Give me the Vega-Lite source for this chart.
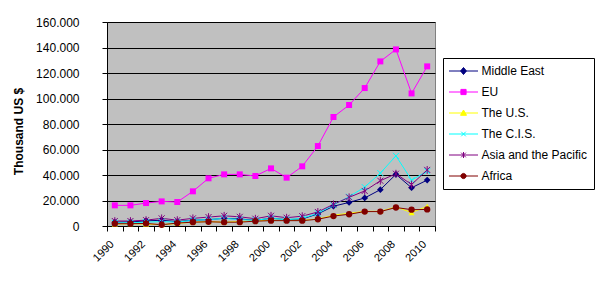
{
  "$schema": "https://vega.github.io/schema/vega-lite/v6.json",
  "width": 328,
  "height": 204,
  "autosize": "none",
  "padding": {"left": 107, "top": 22, "right": 171, "bottom": 55},
  "background": "#ffffff",
  "config": {
    "font": "Liberation Sans",
    "view": {"fill": "#C0C0C0", "stroke": "#808080", "strokeWidth": 1},
    "axis": {"labelFont": "Liberation Sans", "labelColor": "#000000", "labelFontSize": 12, "titleFont": "Liberation Sans", "titleColor": "#000000"}
  },
  "data": {
    "values": [
      {"year": 1990, "series": "Middle East", "value": 3000},
      {"year": 1991, "series": "Middle East", "value": 3200},
      {"year": 1992, "series": "Middle East", "value": 4000},
      {"year": 1993, "series": "Middle East", "value": 4500},
      {"year": 1994, "series": "Middle East", "value": 3500},
      {"year": 1995, "series": "Middle East", "value": 4500},
      {"year": 1996, "series": "Middle East", "value": 5000},
      {"year": 1997, "series": "Middle East", "value": 6000},
      {"year": 1998, "series": "Middle East", "value": 5500},
      {"year": 1999, "series": "Middle East", "value": 4500},
      {"year": 2000, "series": "Middle East", "value": 6000},
      {"year": 2001, "series": "Middle East", "value": 5000},
      {"year": 2002, "series": "Middle East", "value": 5500},
      {"year": 2003, "series": "Middle East", "value": 9500},
      {"year": 2004, "series": "Middle East", "value": 15500},
      {"year": 2005, "series": "Middle East", "value": 18500},
      {"year": 2006, "series": "Middle East", "value": 22000},
      {"year": 2007, "series": "Middle East", "value": 28500},
      {"year": 2008, "series": "Middle East", "value": 40500},
      {"year": 2009, "series": "Middle East", "value": 30000},
      {"year": 2010, "series": "Middle East", "value": 36000},

      {"year": 1990, "series": "EU", "value": 16200},
      {"year": 1991, "series": "EU", "value": 16200},
      {"year": 1992, "series": "EU", "value": 18000},
      {"year": 1993, "series": "EU", "value": 19300},
      {"year": 1994, "series": "EU", "value": 18800},
      {"year": 1995, "series": "EU", "value": 27200},
      {"year": 1996, "series": "EU", "value": 37400},
      {"year": 1997, "series": "EU", "value": 40500},
      {"year": 1998, "series": "EU", "value": 40500},
      {"year": 1999, "series": "EU", "value": 39200},
      {"year": 2000, "series": "EU", "value": 45200},
      {"year": 2001, "series": "EU", "value": 37900},
      {"year": 2002, "series": "EU", "value": 46800},
      {"year": 2003, "series": "EU", "value": 62700},
      {"year": 2004, "series": "EU", "value": 85500},
      {"year": 2005, "series": "EU", "value": 94900},
      {"year": 2006, "series": "EU", "value": 108200},
      {"year": 2007, "series": "EU", "value": 129100},
      {"year": 2008, "series": "EU", "value": 138500},
      {"year": 2009, "series": "EU", "value": 104000},
      {"year": 2010, "series": "EU", "value": 125200},

      {"year": 1990, "series": "The U.S.", "value": 1500},
      {"year": 1991, "series": "The U.S.", "value": 1800},
      {"year": 1992, "series": "The U.S.", "value": 1500},
      {"year": 1993, "series": "The U.S.", "value": 1000},
      {"year": 1994, "series": "The U.S.", "value": 2000},
      {"year": 1995, "series": "The U.S.", "value": 3000},
      {"year": 1996, "series": "The U.S.", "value": 3500},
      {"year": 1997, "series": "The U.S.", "value": 3000},
      {"year": 1998, "series": "The U.S.", "value": 3500},
      {"year": 1999, "series": "The U.S.", "value": 4000},
      {"year": 2000, "series": "The U.S.", "value": 4500},
      {"year": 2001, "series": "The U.S.", "value": 4500},
      {"year": 2002, "series": "The U.S.", "value": 4500},
      {"year": 2003, "series": "The U.S.", "value": 5500},
      {"year": 2004, "series": "The U.S.", "value": 8500},
      {"year": 2005, "series": "The U.S.", "value": 10000},
      {"year": 2006, "series": "The U.S.", "value": 11500},
      {"year": 2007, "series": "The U.S.", "value": 11500},
      {"year": 2008, "series": "The U.S.", "value": 15000},
      {"year": 2009, "series": "The U.S.", "value": 10500},
      {"year": 2010, "series": "The U.S.", "value": 15500},

      {"year": 1990, "series": "The C.I.S.", "value": 2500},
      {"year": 1991, "series": "The C.I.S.", "value": 2500},
      {"year": 1992, "series": "The C.I.S.", "value": 3000},
      {"year": 1993, "series": "The C.I.S.", "value": 3500},
      {"year": 1994, "series": "The C.I.S.", "value": 3000},
      {"year": 1995, "series": "The C.I.S.", "value": 4500},
      {"year": 1996, "series": "The C.I.S.", "value": 5000},
      {"year": 1997, "series": "The C.I.S.", "value": 6000},
      {"year": 1998, "series": "The C.I.S.", "value": 5000},
      {"year": 1999, "series": "The C.I.S.", "value": 4500},
      {"year": 2000, "series": "The C.I.S.", "value": 6000},
      {"year": 2001, "series": "The C.I.S.", "value": 5000},
      {"year": 2002, "series": "The C.I.S.", "value": 6000},
      {"year": 2003, "series": "The C.I.S.", "value": 10000},
      {"year": 2004, "series": "The C.I.S.", "value": 16500},
      {"year": 2005, "series": "The C.I.S.", "value": 23000},
      {"year": 2006, "series": "The C.I.S.", "value": 30500},
      {"year": 2007, "series": "The C.I.S.", "value": 41500},
      {"year": 2008, "series": "The C.I.S.", "value": 55000},
      {"year": 2009, "series": "The C.I.S.", "value": 36000},
      {"year": 2010, "series": "The C.I.S.", "value": 43000},

      {"year": 1990, "series": "Asia and the Pacific", "value": 3900},
      {"year": 1991, "series": "Asia and the Pacific", "value": 3900},
      {"year": 1992, "series": "Asia and the Pacific", "value": 4600},
      {"year": 1993, "series": "Asia and the Pacific", "value": 6000},
      {"year": 1994, "series": "Asia and the Pacific", "value": 4600},
      {"year": 1995, "series": "Asia and the Pacific", "value": 6000},
      {"year": 1996, "series": "Asia and the Pacific", "value": 7000},
      {"year": 1997, "series": "Asia and the Pacific", "value": 8000},
      {"year": 1998, "series": "Asia and the Pacific", "value": 7200},
      {"year": 1999, "series": "Asia and the Pacific", "value": 5700},
      {"year": 2000, "series": "Asia and the Pacific", "value": 8000},
      {"year": 2001, "series": "Asia and the Pacific", "value": 6500},
      {"year": 2002, "series": "Asia and the Pacific", "value": 7700},
      {"year": 2003, "series": "Asia and the Pacific", "value": 11000},
      {"year": 2004, "series": "Asia and the Pacific", "value": 17000},
      {"year": 2005, "series": "Asia and the Pacific", "value": 22500},
      {"year": 2006, "series": "Asia and the Pacific", "value": 27500},
      {"year": 2007, "series": "Asia and the Pacific", "value": 35500},
      {"year": 2008, "series": "Asia and the Pacific", "value": 41000},
      {"year": 2009, "series": "Asia and the Pacific", "value": 32500},
      {"year": 2010, "series": "Asia and the Pacific", "value": 44000},

      {"year": 1990, "series": "Africa", "value": 1800},
      {"year": 1991, "series": "Africa", "value": 1800},
      {"year": 1992, "series": "Africa", "value": 2000},
      {"year": 1993, "series": "Africa", "value": 1000},
      {"year": 1994, "series": "Africa", "value": 2300},
      {"year": 1995, "series": "Africa", "value": 3000},
      {"year": 1996, "series": "Africa", "value": 3300},
      {"year": 1997, "series": "Africa", "value": 3000},
      {"year": 1998, "series": "Africa", "value": 3000},
      {"year": 1999, "series": "Africa", "value": 3800},
      {"year": 2000, "series": "Africa", "value": 4200},
      {"year": 2001, "series": "Africa", "value": 4200},
      {"year": 2002, "series": "Africa", "value": 4200},
      {"year": 2003, "series": "Africa", "value": 5300},
      {"year": 2004, "series": "Africa", "value": 7800},
      {"year": 2005, "series": "Africa", "value": 9200},
      {"year": 2006, "series": "Africa", "value": 11300},
      {"year": 2007, "series": "Africa", "value": 11300},
      {"year": 2008, "series": "Africa", "value": 14500},
      {"year": 2009, "series": "Africa", "value": 12800},
      {"year": 2010, "series": "Africa", "value": 13000}
    ]
  },
  "encoding": {
    "x": {
      "field": "year",
      "type": "ordinal",
      "scale": {"type": "band", "paddingInner": 0, "paddingOuter": 0},
      "axis": {
        "title": null,
        "tickBand": "extent",
        "grid": false,
        "domainColor": "#000000",
        "tickColor": "#000000",
        "tickSize": 5,
        "labelFontSize": 11,
        "labelAngle": -45,
        "labelAlign": "right",
        "labelBaseline": "top",
        "labelPadding": 7,
        "labelOffset": -7,
        "labelExpr": "datum.value % 2 === 0 ? datum.label : ''"
      }
    },
    "y": {
      "field": "value",
      "type": "quantitative",
      "scale": {"domain": [0, 160000], "nice": false, "zero": true},
      "axis": {
        "values": [0, 20000, 40000, 60000, 80000, 100000, 120000, 140000, 160000],
        "labelExpr": "replace(format(datum.value, ','), ',', '.')",
        "grid": true,
        "gridColor": "#000000",
        "gridWidth": 1,
        "domainColor": "#000000",
        "tickColor": "#000000",
        "tickSize": 5,
        "labelPadding": 23,
        "title": "Thousand US $",
        "titleFontSize": 12,
        "titleFontWeight": "bold",
        "titleAngle": 270,
        "titleAlign": "center",
        "titleBaseline": "middle",
        "titleX": -89,
        "titleY": 109
      }
    },
    "color": {
      "field": "series",
      "type": "nominal",
      "scale": {
        "domain": ["Middle East", "EU", "The U.S.", "The C.I.S.", "Asia and the Pacific", "Africa"],
        "range": ["#000080", "#FF00FF", "#FFFF00", "#00FFFF", "#800080", "#800000"]
      },
      "legend": {
        "title": null,
        "orient": "none",
        "legendX": 336,
        "legendY": 36,
        "padding": 7,
        "strokeColor": "#000000",
        "fillColor": "#ffffff",
        "labelFont": "Liberation Sans",
        "labelFontSize": 12,
        "labelColor": "#000000",
        "labelOffset": 12,
        "symbolSize": 100,
        "symbolOffset": 7.5,
        "symbolStrokeWidth": 1,
        "rowPadding": 9,
        "encode": {
          "symbols": {
            "update": {
              "shape": {"signal": "datum.value === 'Middle East' ? 'M-2.9,0H2.9M0,-0.7L0.58,0L0,0.7L-0.58,0Z' : datum.value === 'EU' ? 'M-2.9,0H2.9M-0.52,-0.52H0.52V0.52H-0.52Z' : datum.value === 'The U.S.' ? 'M-2.9,0H2.9M0,-0.6L0.6,0.46H-0.6Z' : datum.value === 'The C.I.S.' ? 'M-2.9,0H2.9M-0.46,-0.46L0.46,0.46M-0.46,0.46L0.46,-0.46' : datum.value === 'Asia and the Pacific' ? 'M-2.9,0H2.9M-0.46,-0.46L0.46,0.46M-0.46,0.46L0.46,-0.46M0,-0.6V0.6' : 'M-2.9,0H2.9M-0.52,0A0.52,0.52,0,1,0,0.52,0A0.52,0.52,0,1,0,-0.52,0Z'"},
              "fill": {"scale": "color", "field": "value"},
              "stroke": {"scale": "color", "field": "value"},
              "strokeWidth": {"value": 1},
              "opacity": {"value": 1}
            }
          }
        }
      }
    }
  },
  "layer": [
    {"mark": {"type": "line", "strokeWidth": 1}},
    {
      "transform": [{"filter": "datum.series === 'Middle East'"}],
      "mark": {"type": "point", "shape": "diamond", "filled": true, "size": 45, "opacity": 1}
    },
    {
      "transform": [{"filter": "datum.series === 'EU'"}],
      "mark": {"type": "point", "shape": "square", "filled": true, "size": 36, "opacity": 1}
    },
    {
      "transform": [{"filter": "datum.series === 'The U.S.'"}],
      "mark": {"type": "point", "shape": "triangle-up", "filled": true, "size": 36, "opacity": 1}
    },
    {
      "transform": [{"filter": "datum.series === 'The C.I.S.'"}],
      "mark": {"type": "point", "shape": "M-1,-1L1,1M-1,1L1,-1", "filled": false, "size": 36, "strokeWidth": 1, "opacity": 1}
    },
    {
      "transform": [{"filter": "datum.series === 'Asia and the Pacific'"}],
      "mark": {"type": "point", "shape": "M-1,-1L1,1M-1,1L1,-1M0,-1.3V1.3", "filled": false, "size": 36, "strokeWidth": 1, "opacity": 1}
    },
    {
      "transform": [{"filter": "datum.series === 'Africa'"}],
      "mark": {"type": "point", "shape": "circle", "filled": true, "size": 40, "opacity": 1}
    }
  ]
}
